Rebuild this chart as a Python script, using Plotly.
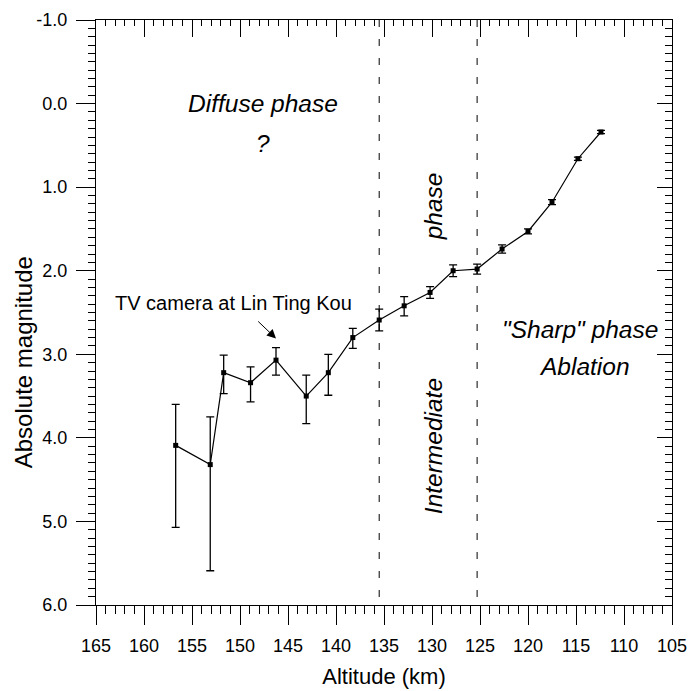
import plotly.graph_objects as go

# Data
altitude = [156.7, 153.1, 151.7, 148.9, 146.25, 143.1, 140.8, 138.25, 135.5, 132.9,
            130.2, 127.8, 125.3, 122.7, 120.0, 117.5, 114.8, 112.4]
magnitude = [4.09, 4.32, 3.22, 3.34, 3.07, 3.50, 3.22, 2.80, 2.59, 2.42,
             2.26, 2.00, 1.98, 1.74, 1.53, 1.18, 0.66, 0.34]
err_bright = [0.49, 0.57, 0.21, 0.19, 0.15, 0.25, 0.22, 0.11, 0.13, 0.11,
              0.07, 0.07, 0.06, 0.05, 0.03, 0.03, 0.02, 0.02]
err_faint = [0.98, 1.27, 0.25, 0.23, 0.18, 0.33, 0.27, 0.13, 0.13, 0.12,
             0.07, 0.07, 0.06, 0.05, 0.03, 0.03, 0.02, 0.02]

phase_boundaries = [135.5, 125.3]
x_range = [165, 105]
y_range = [6, -1]

FONT = "Liberation Sans, Arial, sans-serif"

fig = go.Figure()

fig.add_trace(go.Scatter(
    x=altitude, y=magnitude, mode="lines+markers",
    line=dict(color="black", width=1.2),
    marker=dict(symbol="square", size=5, color="black"),
    error_y=dict(type="data", symmetric=False, array=err_faint, arrayminus=err_bright,
                 color="black", thickness=1.3, width=4),
    showlegend=False, hoverinfo="skip",
))
# invisible copy on the mirrored axes so they render their ticks
fig.add_trace(go.Scatter(x=altitude, y=magnitude, xaxis="x2", yaxis="y2", mode="markers",
                         marker=dict(opacity=0, size=1), showlegend=False, hoverinfo="skip"))

for b in phase_boundaries:
    fig.add_shape(type="line", x0=b, x1=b, y0=y_range[1], y1=y_range[0], xref="x", yref="y",
                  line=dict(color="black", width=1, dash="7px,12px"))

common_x = dict(range=x_range, tickmode="linear", tick0=165, dtick=5, showline=True,
                linecolor="black", linewidth=1, showgrid=False, zeroline=False,
                tickcolor="black", tickwidth=1, automargin=False)
common_y = dict(range=y_range, tickmode="linear", tick0=-1, dtick=1, tickformat=".1f",
                showline=True, linecolor="black", linewidth=1, showgrid=False,
                zeroline=False, tickcolor="black", tickwidth=1, automargin=False)

def minor_x(direction, length):
    return dict(tickmode="linear", tick0=165, dtick=1, ticks=direction, ticklen=length,
                tickcolor="black", tickwidth=1, showgrid=False)

def minor_y(direction, length):
    return dict(tickmode="linear", tick0=-1, dtick=0.1, ticks=direction, ticklen=length,
                tickcolor="black", tickwidth=1, showgrid=False)

fig.update_layout(
    width=691, height=691,
    margin=dict(l=96, r=19, t=20, b=86, autoexpand=False),
    paper_bgcolor="white", plot_bgcolor="white",
    font=dict(family=FONT, color="black"),
    xaxis=dict(**common_x, ticks="outside", ticklen=19, minor=minor_x("outside", 8),
               tickfont=dict(size=18), ticklabelstandoff=5,
               title=dict(text="Altitude (km)", font=dict(size=22), standoff=14)),
    yaxis=dict(**common_y, ticks="outside", ticklen=19, labelalias={"\u22121.0": "-1.0"},
               minor=minor_y("outside", 7), tickfont=dict(size=18), ticklabelstandoff=5),
    xaxis2=dict(**common_x, overlaying="x", side="top", anchor="y2", ticks="inside", ticklen=17,
                showticklabels=False, minor=minor_x("inside", 6)),
    yaxis2=dict(**common_y, overlaying="y", side="right", anchor="x2", ticks="inside", ticklen=15,
                showticklabels=False, minor=minor_y("inside", 7)),
)

# y-axis title (placed a little below the axis centre, as in the original)
fig.add_annotation(x=-0.126, xref="paper", y=3.09, yref="y", text="Absolute magnitude",
                   textangle=-90, showarrow=False, xanchor="center", yanchor="middle",
                   font=dict(family=FONT, size=24, color="black"))

ann_font = dict(family=FONT, size=24.5, color="black")
fig.add_annotation(x=147.6, y=0.0, text="<i>Diffuse phase</i>", showarrow=False, font=ann_font)
fig.add_annotation(x=147.6, y=0.48, text="<i>?</i>", showarrow=False, font=ann_font)
fig.add_annotation(x=129.9, y=1.23, text="<i>phase</i>", showarrow=False, font=ann_font, textangle=-90)
fig.add_annotation(x=129.9, y=4.1, text="<i>Intermediate</i>", showarrow=False, font=ann_font, textangle=-90)
fig.add_annotation(x=114.6, y=2.70, text='<i>"Sharp" phase</i>', showarrow=False, font=ann_font)
fig.add_annotation(x=114.1, y=3.15, text="<i>Ablation</i>", showarrow=False, font=ann_font)
fig.add_annotation(x=150.7, y=2.39, text="TV camera at Lin Ting Kou", showarrow=False,
                   font=dict(family=FONT, size=20, color="black"))
fig.add_annotation(x=146.25, y=2.81, ax=148.26, ay=2.59, axref="x", ayref="y",
                   text="", showarrow=True, arrowhead=2, arrowsize=1.8, arrowwidth=1,
                   arrowcolor="black", standoff=0)

fig.write_html("out.html", post_script="document.body.style.margin='0px';",
               config={"displayModeBar": False})
